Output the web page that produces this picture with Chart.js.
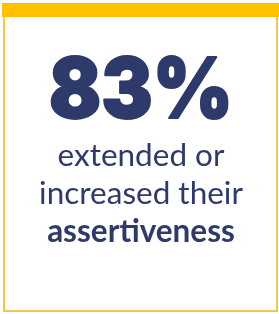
<!DOCTYPE html>
<html>
<head>
<meta charset="utf-8">
<script src="https://cdn.jsdelivr.net/npm/chart.js@4.4.0/dist/chart.umd.min.js"></script>
<style>
  html, body { margin: 0; padding: 0; background: #fff; }
  #card { position: absolute; left: 3px; top: 3px; width: 271px; height: 305px; border: 2px solid #F4C842; }
  #topbar { position: absolute; left: 2px; top: 3px; width: 277px; height: 14px; background: #FFC000; }
  #chartBox { position: absolute; left: 0; top: 0; width: 279px; height: 314px; }
</style>
</head>
<body>
<div id="card"></div>
<div id="topbar"></div>
<div id="chartBox"><canvas id="statChart"></canvas></div>
<script>
const statValues = [83];
const statUnits = ['%'];
const captionLines = ['extended or', 'increased their', 'assertiveness'];
const captionBold = [false, false, true];

const navy = '#2E3A6B';

// draws the big number and the caption in the middle of the card
const statPlugin = {
    id: 'statText',
    afterDraw: function(chart) {
        const ctx = chart.ctx;
        const cx = 141;
        ctx.save();
        ctx.fillStyle = navy;
        ctx.strokeStyle = navy;
        ctx.textAlign = 'center';
        ctx.textBaseline = 'alphabetic';

        // number is a bit narrower than Inter Black, squeeze it
        ctx.save();
        ctx.translate(cx, 118);
        ctx.scale(0.915, 1);
        ctx.font = '900 84px Inter, sans-serif';
        ctx.lineWidth = 2;
        ctx.lineJoin = 'round';
        ctx.fillText(statValues[0] + statUnits[0], 0, 0);
        ctx.strokeText(statValues[0] + statUnits[0], 0, 0);
        ctx.restore();

        let y = 166;
        captionLines.forEach(function(line, i) {
            ctx.font = (captionBold[i] ? 'bold ' : '') + '31.5px Lato, "Open Sans", sans-serif';
            ctx.fillText(line, cx, y);
            y += 38;
        });
        ctx.restore();
    }
};

new Chart(document.getElementById('statChart'), {
    type: 'bar',
    data: { labels: [''], datasets: [{ data: [], backgroundColor: navy }] },
    options: {
        responsive: true,
        maintainAspectRatio: false,
        animation: false,
        events: [],
        scales: { x: { display: false }, y: { display: false } },
        plugins: { legend: { display: false }, tooltip: { enabled: false } }
    },
    plugins: [statPlugin]
});
</script>
</body>
</html>
